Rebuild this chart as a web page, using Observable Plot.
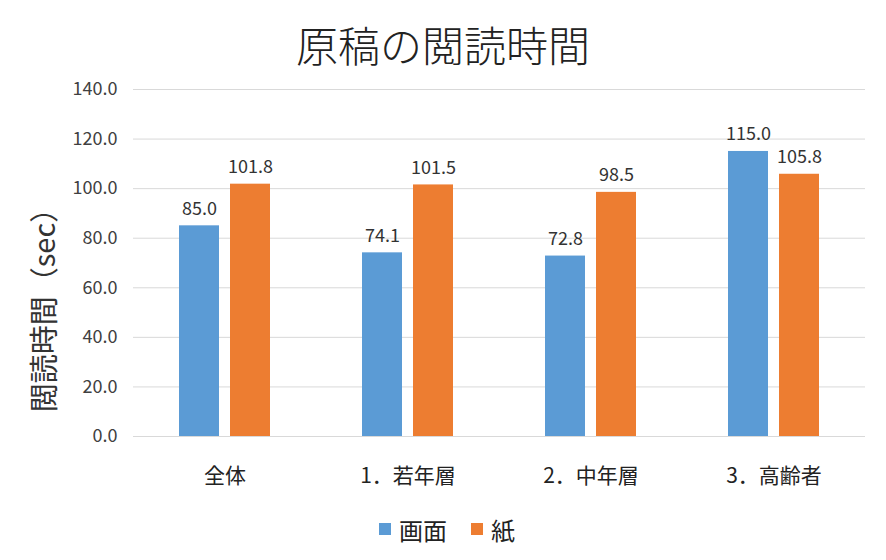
<!DOCTYPE html>
<html>
<head>
<meta charset="utf-8">
<script src="https://cdn.jsdelivr.net/npm/d3@7"></script>
<script src="https://cdn.jsdelivr.net/npm/@observablehq/plot@0.6"></script>
<style>
  body { margin: 0; background: #fff; font-family: "Noto Sans CJK JP", "Noto Sans", sans-serif; }
  #wrap { position: relative; width: 886px; height: 560px; }
  #title { height: 66px; line-height: 88px; text-align: center; font-size: 42px; color: #222; font-weight: 300; }
  #ylabel { position: absolute; left: 42px; top: 303px; transform: translate(-50%, -50%) rotate(-90deg); font-size: 29px; color: #333; white-space: nowrap; }
  #legend { height: 62px; display: flex; justify-content: center; align-items: center; font-size: 24px; color: #222; padding-left: 8px; box-sizing: border-box; }
  .sw { display: inline-block; width: 12px; height: 12px; margin-right: 8px; }
  .item { display: flex; align-items: center; margin: 0 12px; }
</style>
</head>
<body>
<div id="wrap">
  <div id="title">原稿の閲読時間</div>
  <div id="chart"></div>
  <div id="ylabel">閲読時間（sec）</div>
  <div id="legend"></div>
</div>
<script>
const categories = ["全体", "1．若年層", "2．中年層", "3．高齢者"];
const series = ["画面", "紙"];
const screenValues = [85.0, 74.1, 72.8, 115.0];
const paperValues = [101.8, 101.5, 98.5, 105.8];
const yTicks = [0, 20, 40, 60, 80, 100, 120, 140];
const colors = ["#5B9BD5", "#ED7D31"];

const data = [];
categories.forEach((c, i) => {
  data.push({cat: c, series: series[0], value: screenValues[i]});
  data.push({cat: c, series: series[1], value: paperValues[i]});
});

const chart = Plot.plot({
  width: 886,
  height: 432,
  marginLeft: 132,
  marginRight: 20,
  marginTop: 23,
  marginBottom: 62,
  style: {fontFamily: '"Noto Sans CJK JP", "Noto Sans", sans-serif', fontSize: "16px", background: "#fff"},
  fx: {domain: categories, padding: 0, label: null},
  x: {domain: series, paddingInner: 0.21, paddingOuter: 0.87, axis: null},
  y: {domain: [0, 140], label: null},
  color: {domain: series, range: colors},
  marks: [
    Plot.ruleY(yTicks, {stroke: "#d9d9d9", strokeWidth: 1}),
    Plot.axisY(yTicks, {tickSize: 0, tickPadding: 16, tickFormat: d => d.toFixed(1), label: null, fontSize: 18, fill: "#404040"}),
    Plot.axisFx({anchor: "bottom", tickSize: 0, tickPadding: 32, label: null, fontSize: 21, fill: "#222"}),
    Plot.barY(data, {fx: "cat", x: "series", y: "value", fill: "series"}),
    Plot.text(data, {fx: "cat", x: "series", y: "value", text: d => d.value.toFixed(1), dy: -11, lineAnchor: "bottom", fontSize: 18, fill: "#333"})
  ]
});
document.getElementById("chart").appendChild(chart);

const legend = document.getElementById("legend");
series.forEach((s, i) => {
  const item = document.createElement("div");
  item.className = "item";
  item.innerHTML = `<span class="sw" style="background:${colors[i]}"></span><span>${s}</span>`;
  legend.appendChild(item);
});
</script>
</body>
</html>
